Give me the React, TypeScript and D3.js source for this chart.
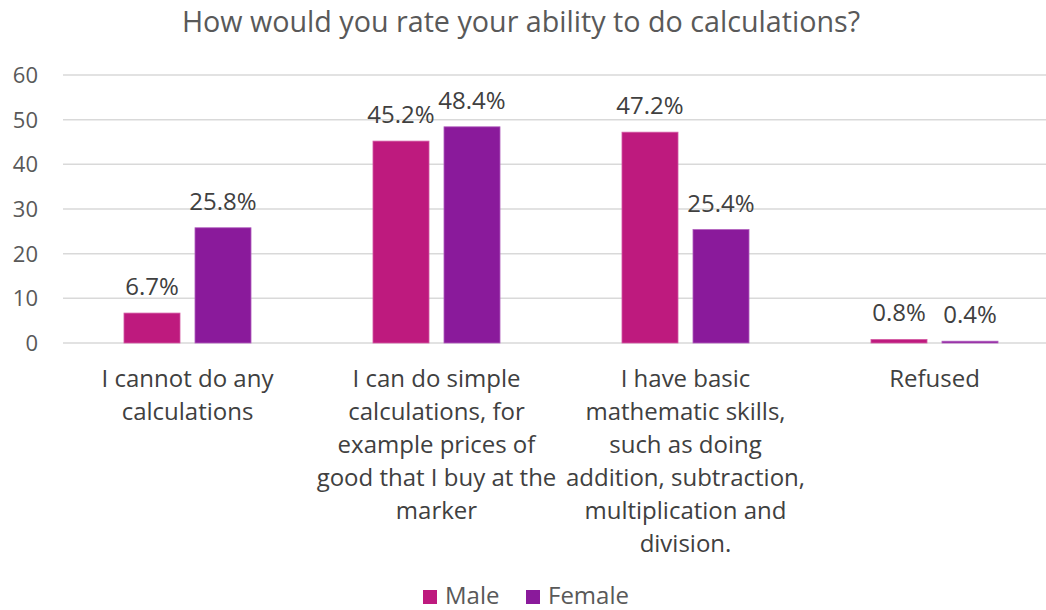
import React from "react";
import * as d3 from "d3";

const categories = [
  ["I cannot do any", "calculations"],
  ["I can do simple", "calculations, for", "example prices of", "good that I buy at the", "marker"],
  ["I have basic", "mathematic skills,", "such as doing", "addition, subtraction,", "multiplication and", "division."],
  ["Refused"],
];
const male = [6.7, 45.2, 47.2, 0.8];
const female = [25.8, 48.4, 25.4, 0.4];
const series = ["Male", "Female"];
const yTicks = [0, 10, 20, 30, 40, 50, 60];
const colors = ["#BE1A7E", "#8A1A9B"];

export default function App() {
  const W = 1046, H = 610;
  const left = 63, right = 1059, top = 75, bottom = 343;
  const x = d3.scaleBand<number>().domain(d3.range(categories.length)).range([left, right]);
  const y = d3.scaleLinear().domain([0, 60]).range([bottom, top]);
  const inner = d3.scaleBand<number>().domain([0, 1]).range([0, x.bandwidth()]).paddingInner(0.211).paddingOuter(0.859);
  const font = "'Open Sans', sans-serif";
  const data = [male, female];
  return (
    <svg width={W} height={H} style={{ position: "absolute", left: 0, top: 0 }} fontFamily={font}>
      <rect width={W} height={H} fill="#fff" />
      <text x={521} y={32} textAnchor="middle" fontSize={28.7} fill="#595959">How would you rate your ability to do calculations?</text>
      {yTicks.map((t) => (
        <g key={t}>
          <line x1={left} x2={W} y1={y(t)} y2={y(t)} stroke="#D9D9D9" strokeWidth={1.5} />
          <text x={38} y={y(t) + 8} textAnchor="end" fontSize={22} fill="#595959">{t}</text>
        </g>
      ))}
      {categories.map((c, i) => (
        <g key={i}>
          {data.map((s, j) => {
            const bx = x(i)! + inner(j)!;
            const bw = inner.bandwidth();
            const h = bottom - y(s[i]);
            return (
              <g key={j}>
                <rect x={bx} y={y(s[i])} width={bw} height={Math.max(h, 1.5)} fill={colors[j]} stroke={j === 0 ? "#D45CA5" : "#B160BE"} strokeWidth={0.8} />
                <text x={bx + bw / 2} y={y(s[i]) - 18} textAnchor="middle" fontSize={24} fill="#404040">{s[i].toFixed(1)}%</text>
              </g>
            );
          })}
          {c.map((line, k) => (
            <text key={k} x={x(i)! + x.bandwidth() / 2} y={387 + k * 33} textAnchor="middle" fontSize={24} fill="#404040">{line}</text>
          ))}
        </g>
      ))}
      {series.map((s, j) => {
        const lx = [423, 526][j];
        return (
          <g key={s}>
            <rect x={lx} y={590} width={14} height={14} fill={colors[j]} />
            <text x={lx + 22} y={604} fontSize={24} fill="#595959">{s}</text>
          </g>
        );
      })}
    </svg>
  );
}
